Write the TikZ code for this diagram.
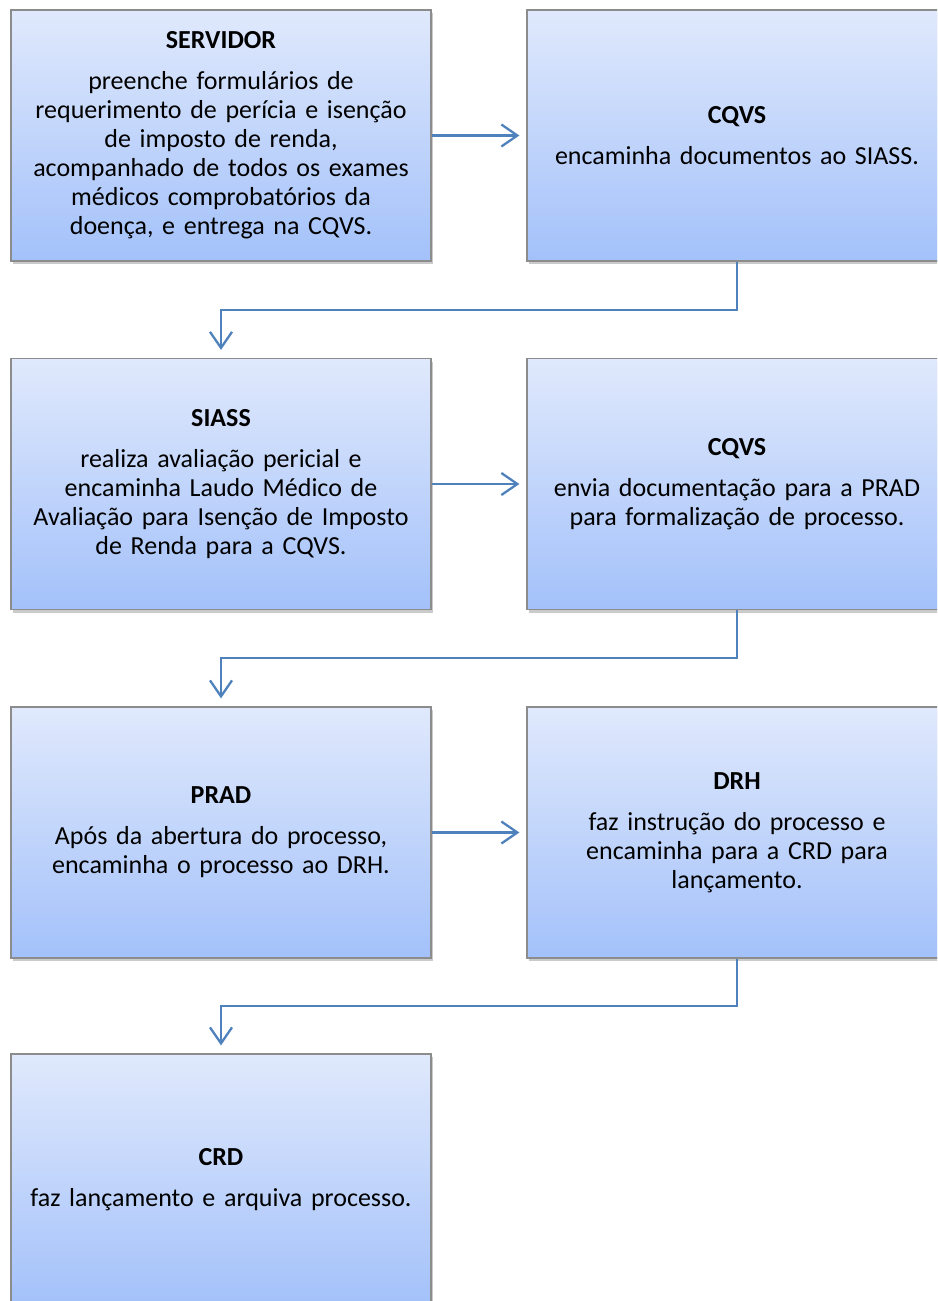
\documentclass[tikz,border=0pt]{standalone}
\usepackage{fontspec}
\setmainfont{Carlito}[WordSpace=0.8]
\usetikzlibrary{arrows.meta,calc,shadows}
\definecolor{boxtop}{RGB}{224,233,252}
\definecolor{boxbottom}{RGB}{163,193,250}
\definecolor{boxline}{RGB}{140,140,140}
\definecolor{linkblue}{RGB}{79,129,189}

\begin{document}
\begin{tikzpicture}[
    x=1pt,y=1pt,
    stage/.style={rectangle,draw=boxline,line width=1.2pt,
        top color=boxtop,bottom color=boxbottom,
        minimum width=420pt,minimum height=251pt,text width=410pt,
        inner sep=0pt,align=center,
        font=\fontsize{26}{29}\selectfont,
        drop shadow={shadow xshift=2pt,shadow yshift=-3pt,opacity=.35,fill=black!60}},
    flow/.style={-{Straight Barb[length=16pt,width=22pt]},line width=2.3pt,draw=linkblue}]
\useasboundingbox (0,0) rectangle (937,-1301);
\clip (0,0) rectangle (937,-1301);
\node[stage] (servidor) at (221,-135.5) {\textbf{SERVIDOR}\\[12pt]preenche formulários de\\requerimento de perícia e isenção\\de imposto de renda,\\acompanhado de todos os exames\\médicos comprobatórios da\\doença, e entrega na CQVS.};
\node[stage] (cqvs1) at (737,-135.5) {\textbf{CQVS}\\[12pt]encaminha documentos ao SIASS.};
\node[stage] (siass) at (221,-484) {\textbf{SIASS}\\[12pt]realiza avaliação pericial e\\encaminha Laudo Médico de\\Avaliação para Isenção de Imposto\\de Renda para a CQVS.};
\node[stage] (cqvs2) at (737,-484) {\textbf{CQVS}\\[12pt]envia documentação para a PRAD\\para formalização de processo.};
\node[stage] (prad) at (221,-832.5) {\textbf{PRAD}\\[12pt]Após da abertura do processo,\\encaminha o processo ao DRH.};
\node[stage] (drh) at (737,-832.5) {\textbf{DRH}\\[12pt]faz instrução do processo e\\encaminha para a CRD para\\lançamento.};
\node[stage] (crd) at (221,-1179.5) {\textbf{CRD}\\[12pt]faz lançamento e arquiva processo.};
\draw[flow,shorten >=7pt] (servidor.east)--(cqvs1.west);
\draw[flow,shorten >=7pt] (siass.east)--(cqvs2.west);
\draw[flow,shorten >=7pt] (prad.east)--(drh.west);
\draw[flow,shorten >=8pt] (cqvs1.south)|-($(cqvs1.south)!.5!(siass.north)$)-|(siass.north);
\draw[flow,shorten >=8pt] (cqvs2.south)|-($(cqvs2.south)!.5!(prad.north)$)-|(prad.north);
\draw[flow,shorten >=8pt] (drh.south)|-($(drh.south)!.5!(crd.north)$)-|(crd.north);
\end{tikzpicture}
\end{document}
